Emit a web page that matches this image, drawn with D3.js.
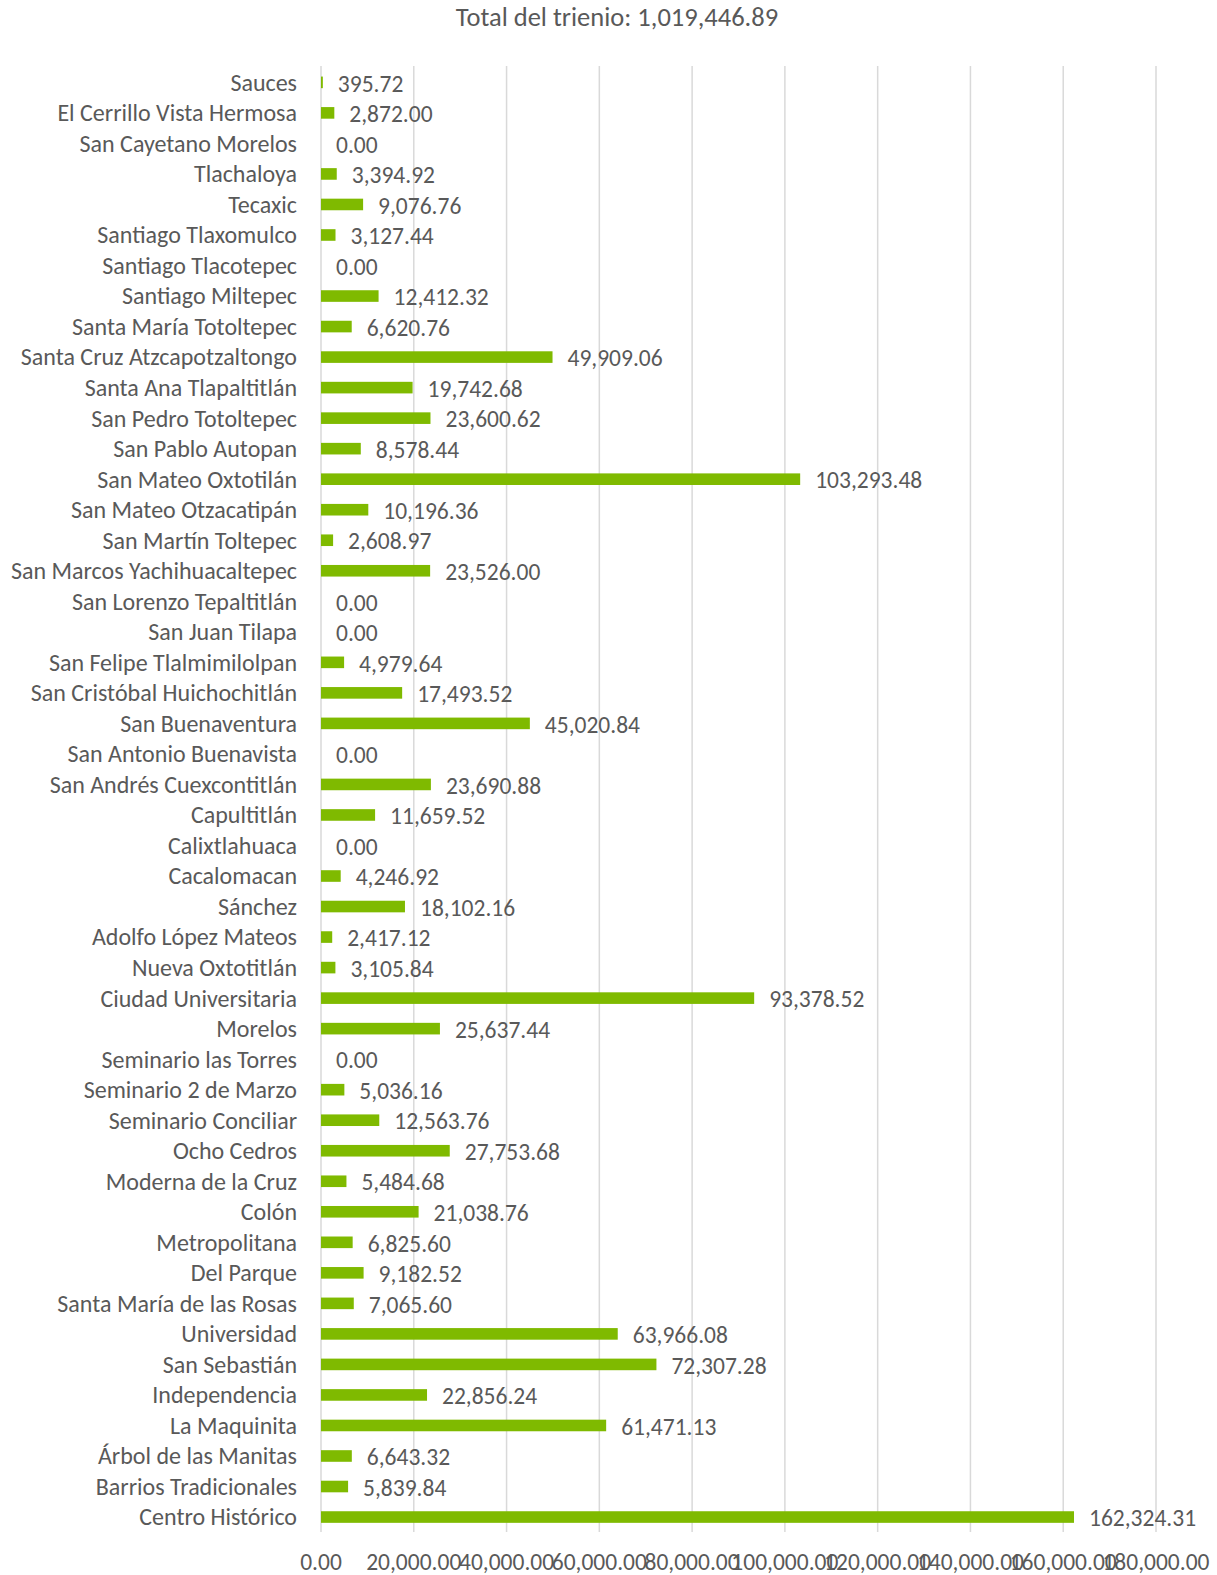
<!DOCTYPE html>
<html>
<head>
<meta charset="utf-8">
<script src="https://cdn.jsdelivr.net/npm/d3@7"></script>
<style>
  html, body { margin: 0; padding: 0; background: #fff; }
  svg { display: block; }
  text { font-family: Carlito, Lato, "Open Sans", sans-serif; fill: #595959; }
</style>
</head>
<body>
<svg id="chart" width="1217" height="1575"></svg>
<script>
const title = "Total del trienio: 1,019,446.89";

const categories = [
  "Sauces", "El Cerrillo Vista Hermosa", "San Cayetano Morelos", "Tlachaloya", "Tecaxic",
  "Santiago Tlaxomulco", "Santiago Tlacotepec", "Santiago Miltepec", "Santa María Totoltepec",
  "Santa Cruz Atzcapotzaltongo", "Santa Ana Tlapaltitlán", "San Pedro Totoltepec", "San Pablo Autopan",
  "San Mateo Oxtotilán", "San Mateo Otzacatipán", "San Martín Toltepec", "San Marcos Yachihuacaltepec",
  "San Lorenzo Tepaltitlán", "San Juan Tilapa", "San Felipe Tlalmimilolpan", "San Cristóbal Huichochitlán",
  "San Buenaventura", "San Antonio Buenavista", "San Andrés Cuexcontitlán", "Capultitlán", "Calixtlahuaca",
  "Cacalomacan", "Sánchez", "Adolfo López Mateos", "Nueva Oxtotitlán", "Ciudad Universitaria", "Morelos",
  "Seminario las Torres", "Seminario 2 de Marzo", "Seminario Conciliar", "Ocho Cedros", "Moderna de la Cruz",
  "Colón", "Metropolitana", "Del Parque", "Santa María de las Rosas", "Universidad", "San Sebastián",
  "Independencia", "La Maquinita", "Árbol de las Manitas", "Barrios Tradicionales", "Centro Histórico"
];

const values = [
  395.72, 2872.00, 0.00, 3394.92, 9076.76,
  3127.44, 0.00, 12412.32, 6620.76,
  49909.06, 19742.68, 23600.62, 8578.44,
  103293.48, 10196.36, 2608.97, 23526.00,
  0.00, 0.00, 4979.64, 17493.52,
  45020.84, 0.00, 23690.88, 11659.52, 0.00,
  4246.92, 18102.16, 2417.12, 3105.84, 93378.52, 25637.44,
  0.00, 5036.16, 12563.76, 27753.68, 5484.68,
  21038.76, 6825.60, 9182.52, 7065.60, 63966.08, 72307.28,
  22856.24, 61471.13, 6643.32, 5839.84, 162324.31
];

const xTicks = [0, 20000, 40000, 60000, 80000, 100000, 120000, 140000, 160000, 180000];

const fmt = d3.format(",.2f");
const svg = d3.select("#chart");

const x = d3.scaleLinear().domain([0, 180000]).range([321, 1156]);
const y = d3.scaleBand().domain(categories).range([67.1, 1532.3]).padding(0);
const barH = y.bandwidth() * 0.38;

// vertical gridlines
svg.append("g")
  .selectAll("line")
  .data(xTicks)
  .join("line")
  .attr("x1", d => x(d)).attr("x2", d => x(d))
  .attr("y1", 66).attr("y2", 1532)
  .attr("stroke", "#d9d9d9")
  .attr("stroke-width", 1.5);

// title
svg.append("text")
  .attr("x", 617).attr("y", 17)
  .attr("text-anchor", "middle")
  .attr("dy", "0.35em")
  .style("font-size", "26.5px")
  .text(title);

// bars
svg.append("g")
  .selectAll("rect")
  .data(values)
  .join("rect")
  .attr("x", x(0))
  .attr("y", (d, i) => y(categories[i]) + (y.bandwidth() - barH) / 2)
  .attr("width", d => x(d) - x(0))
  .attr("height", barH)
  .attr("fill", "#7fba00");

// value labels
svg.append("g")
  .selectAll("text")
  .data(values)
  .join("text")
  .attr("x", d => x(d) + 15)
  .attr("y", (d, i) => y(categories[i]) + y.bandwidth() / 2 + 1)
  .attr("dy", "0.35em")
  .style("font-size", "23.5px")
  .text(d => fmt(d));

// category axis labels
svg.append("g")
  .selectAll("text")
  .data(categories)
  .join("text")
  .attr("x", 297)
  .attr("y", d => y(d) + y.bandwidth() / 2)
  .attr("dy", "0.35em")
  .attr("text-anchor", "end")
  .style("font-size", "24px")
  .text(d => d);

// value axis tick labels
svg.append("g")
  .selectAll("text")
  .data(xTicks)
  .join("text")
  .attr("x", d => x(d))
  .attr("y", 1562)
  .attr("dy", "0.35em")
  .attr("text-anchor", "middle")
  .style("font-size", "23.5px")
  .text(d => fmt(d));
</script>
</body>
</html>
